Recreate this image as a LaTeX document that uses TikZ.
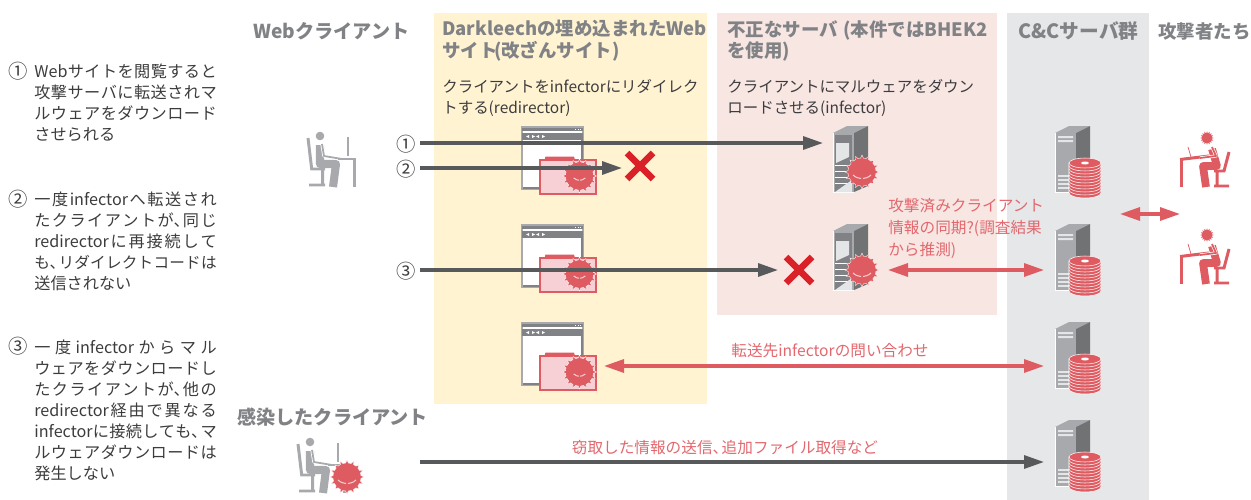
\documentclass[tikz,border=0pt]{standalone}
\usepackage{fontspec}
\setmainfont{Noto Sans CJK JP}
\XeTeXlinebreaklocale "ja"
\XeTeXlinebreakskip=0pt plus 1fil
\usetikzlibrary{arrows.meta, positioning}
\definecolor{vred}{HTML}{DE5B61}
\definecolor{vtext}{HTML}{E2686E}
\definecolor{xred}{HTML}{DA2128}
\definecolor{dgray}{HTML}{58595B}
\definecolor{mgray}{HTML}{A7A9AC}
\definecolor{hgray}{HTML}{808285}
\definecolor{tgray}{HTML}{3C3C3E}
\definecolor{panelyellow}{HTML}{FFF3D2}
\definecolor{panelpink}{HTML}{F8E6E3}
\definecolor{panelgray}{HTML}{E6E7E9}
\definecolor{folderpink}{HTML}{F6D0D4}
\newcommand\tenm{、\kern-.42em}
\newcommand\fullline{\parfillskip=0pt \parindent=0pt \tolerance=9999 \hbadness=10000 }
\newcommand\lastline[1]{\par\hbox{#1}}

\begin{document}
\begin{tikzpicture}[x=0.2mm, y=-0.2mm]
 % We define the styles for the texts and the arrows
 \tikzset{
 heading/.style = {font=\fontsize{10.5pt}{12.2pt}\selectfont\bfseries, text=hgray, align=left, inner sep=0pt},
 bigheading/.style = {heading, font=\fontsize{10.9pt}{12.2pt}\selectfont\bfseries, anchor=west},
 note/.style = {font=\fontsize{8.8pt}{11.9pt}\selectfont, text=tgray, align=left, inner sep=0pt, anchor=north west},
 steptext/.style = {font=\fontsize{9.2pt}{11.9pt}\selectfont, execute at begin node=\fullline, text=tgray, text width=103.75pt, inner sep=0pt, anchor=north west},
 rednote/.style = {font=\fontsize{8.9pt}{12.4pt}\selectfont, text=vtext, align=left, inner sep=0pt},
 num/.style = {font=\fontsize{11pt}{12pt}\selectfont, text=tgray, inner sep=0pt},
 line/.style = {draw, dgray, line width=1.8pt, -{Triangle[length=4mm, width=2.6mm]}},
 redline/.style = {draw, vred, line width=1.8pt, {Triangle[length=4mm, width=2.6mm]}-{Triangle[length=4mm, width=2.6mm]}},
 pics/spiky/.style = {code={
  \fill[vred, draw=white, line width=0.2pt] plot[samples=65, domain=0:360] (\x:{ifthenelse(mod(round(\x/5.625),4)==0,17,14)}) -- cycle;
 }},
 pics/virus/.style = {code={
  \pic at (0,0) {spiky};
  \draw[white!70!vred, line width=0.6pt] (-9,3) .. controls (-6,6) and (-3,6) .. (-1,6.5);
  \draw[white!70!vred, line width=0.6pt] (9,3) .. controls (6,6) and (3,6) .. (1,6.5);
 }},
 pics/person/.style = {code={
  \draw[mgray, line width=1.7pt] (2,6) -- (5.7,37) -- (19,37) (16.7,37) -- (16.7,53) (3,53) -- (19,53);
  \fill[mgray] (14,4) circle (4.3);
  \draw[mgray, line width=4.6pt, line join=round] (14,13) -- (14,32) -- (30,32) -- (27,55);
  \draw[white, line width=1.9pt, line join=round] (16,12) -- (18,24) -- (36,27);
  \draw[mgray, line width=1pt, line join=round] (16,12) -- (18,24) -- (36,27);
  \draw[mgray, line width=1.5pt] (32,27) -- (48.6,27) -- (48.6,55);
  \draw[mgray, line width=1.2pt] (42.3,5) -- (42.3,24);
 }},
 pics/attacker/.style = {code={
  \draw[vred, line width=1.7pt] (0,26.5) -- (29,23);
  \draw[vred, line width=1.7pt] (1.5,26) -- (1.5,54);
  \draw[vred, line width=0.4pt] (8,14) -- (11,24);
  \draw[vred, line width=1.7pt] (49,19) -- (44,38) -- (34,38) (37,38) -- (37,53) (34,53) -- (49,53);
  \draw[vred, line width=4.4pt, line join=round] (32,16) -- (37,33) -- (23,33) -- (26,54);
  \draw[white, line width=1.8pt, line join=round] (32,14) -- (36,23) -- (20,25);
  \draw[vred, line width=1pt, line join=round] (32,14) -- (36,23) -- (20,25);
  % spiky head
  \fill[vred, shift={(27,5)}] plot[samples=33, domain=0:360] (\x:{ifthenelse(mod(round(\x/11.25),2)==0,6.6,4.6)}) -- cycle;
 }},
 pics/browser/.style = {code={
  \draw[mgray, fill=white, line width=1pt] (0,0) rectangle (61,62);
  \fill[hgray] (0,1) rectangle (61,4);
  \fill[hgray] (0,6) rectangle (61,13);
  \foreach \dx in {53,55.5,58} \fill[white] (\dx,1.8) rectangle ++(1.4,1.4);
  \fill[white] (4,9.5) -- (7,8) -- (7,11) -- cycle (10,8) -- (13,9.5) -- (10,11) -- cycle;
  \fill[white] (14,9.5) -- (17,8) -- (17,11) -- cycle (20,8) -- (23,9.5) -- (20,11) -- cycle;
  \fill[hgray] (1,59.5) rectangle (60,61.5);
  \fill[hgray] (59,13) rectangle (60.5,61);
  % folder in front of the window
  \fill[vred] (22.5,33) -- (23.5,29.5) -- (52,29.5) -- (53,33) -- cycle;
  \draw[vred, fill=folderpink, line width=0.6pt] (18,33) rectangle (74,67);
  \pic[scale=0.65] at (57.5,49) {virus};
 }},
 pics/srvbody/.style = {code={
  \fill[mgray] (0,7) -- (14,0) -- (35,0) -- (21,7) -- cycle;
  \fill[dgray!85!white] (21,7) -- (35,0) -- (35,60) -- (21,66) -- cycle;
  \fill[mgray] (0,7) rectangle (21,66);
  \draw[white, line width=0.4pt] (0,7) -- (0,66) -- (21,66);
 }},
 pics/server/.style = {code={
  \pic at (0,0) {srvbody};
  \fill[hgray] (2,9) rectangle (19,66);
  \fill[white!70!mgray] (3,17) -- (16,17) -- (16,31) -- (3,37) -- cycle;
  \foreach \dy in {39,45,51,57} \draw[white, line width=0.4pt] (2,\dy) -- (19,\dy);
  \fill[white!70!mgray] (2,66) -- (19,54) -- (19,66) -- cycle;
  \pic at (29,46) {virus};
 }},
 pics/ccserver/.style = {code={
  \pic at (0,0) {srvbody};
  \fill[white!70!mgray] (3,10) rectangle (18,12) (3,14) rectangle (18,16);
  \foreach \dy in {49,53,57,61} \fill[white!70!mgray] (3,\dy) rectangle (15,\dy+1.6);
  % disk stack
  \foreach \dy in {27,24,...,0} {
   \fill[vred, draw=white, line width=0.3pt] (14,37+\dy) -- (14,40+\dy) arc[start angle=180, end angle=0, x radius=16, y radius=5] -- (46,37+\dy) -- cycle;
  }
  \fill[vred, draw=white, line width=0.3pt] (30,37) ellipse (16 and 5);
  \fill[white] (30,37) ellipse (4 and 1.5);
 }},
 pics/crossmark/.style = {code={
  \draw[xred, line width=3.8pt] (-13,-13) -- (13,13) (-13,13) -- (13,-13);
 }},
 }

 % Panels
 \fill[panelyellow] (434,13) rectangle (707,404);
 \fill[panelpink] (717,13) rectangle (997,315);
 \fill[panelgray] (1007,13) rectangle (1149,500);
 \useasboundingbox (0,0) rectangle (1251,500);

 % Column titles
 \node [bigheading] (webclient) at (253,31) {Webクライアント};
 \node [heading, anchor=north west] (darktitle) at (442,20) {Darkleechの埋め込まれたWeb\\サイト\kern-.2em(改ざんサイト)};
 \node [note, below=10pt of darktitle.south west, anchor=north west] (darknote) {クライアントをinfectorにリダイレク\\トする(redirector)};
 \node [heading, anchor=north west] (fraudtitle) at (727,20) {不正なサーバ\kern.3em(本件ではBHEK2\\を使用)};
 \node [note, below=10pt of fraudtitle.south west, anchor=north west] (fraudnote) {クライアントにマルウェアをダウン\\ロードさせる(infector)};
 \node [bigheading, font=\fontsize{11.2pt}{12.2pt}\selectfont\bfseries] (cctitle) at (1018,31) {C\&Cサーバ群};
 \node [heading, anchor=west] (attackers) at (1158,31) {攻撃者たち};
 \node [bigheading] (infected) at (237,417) {感染したクライアント};

 % Left column
 \node [num] (stepa) at (18,71) {①};
 \node [steptext] (stepatext) at (34,64) {Webサイトを閲覧すると\par 攻撃サーバに転送されマ\par ルウェアをダウンロード\lastline{させられる}};
 \node [num] (stepb) at (18,199) {②};
 \node [steptext] (stepbtext) at (34,192) {一度infectorへ転送され\par たクライアントが\tenm 同じ\par redirectorに再接続して\par {\fontsize{8.9pt}{11.9pt}\selectfont も\tenm リダイレクトコードは}\lastline{送信されない}};
 \node [num] (stepc) at (18,346) {③};
 \node [steptext] (stepctext) at (34,340) {一度infectorからマル\par ウェアをダウンロードし\par たクライアントが\tenm 他の\par redirector経由で異なる\par infectorに接続しても\tenm マ\par ルウェアダウンロードは\lastline{発生しない}};

 % Clients and attackers
 \pic (client) at (306,132) {person};
 \pic (victim) at (296,438) {person};
 \pic at (347,477) {virus};
 \pic (attackera) at (1180,133) {attacker};
 \pic (attackerb) at (1180,230) {attacker};

 % Redirectors
 \pic (redira) at (522,127) {browser};
 \pic (redirb) at (522,225) {browser};
 \pic (redirc) at (522,323) {browser};

 % Infectors
 \pic (infa) at (833,126) {server};
 \pic (infb) at (833,224) {server};

 % C&C servers
 \pic (cca) at (1055,126) {ccserver};
 \pic (ccb) at (1055,224) {ccserver};
 \pic (ccc) at (1055,322) {ccserver};
 \pic (ccd) at (1055,420) {ccserver};

 % Numbers in front of the arrows
 \node [num] (rowa) at (406,144) {①};
 \node [num] (rowb) at (406,169) {②};
 \node [num] (rowc) at (406,271) {③};

 % Free ends of the arrows
 \coordinate (starta) at (420,143);
 \coordinate (startb) at (420,168);
 \coordinate (startc) at (420,270);
 \coordinate (startd) at (420,462);
 \coordinate (enda) at (823,143);
 \coordinate (endb) at (622,168);
 \coordinate (endc) at (778,270);
 \coordinate (endd) at (1044,462);
 \coordinate (syncl) at (888,270);
 \coordinate (syncr) at (1044,270);
 \coordinate (askl) at (604,366);
 \coordinate (askr) at (1044,366);
 \coordinate (talkl) at (1120,214);
 \coordinate (talkr) at (1180,214);

 % Arrows and labels
 \draw [line] (starta) -- (enda);
 \draw [line] (startb) -- (endb);
 \draw [line] (startc) -- (endc);
 \draw [line] (startd) -- (endd);
 \draw [redline] (syncl) -- (syncr);
 \draw [redline] (askl) -- (askr);
 \draw [redline] (talkl) -- (talkr);
 \node [rednote, anchor=north west] (synctext) at (888,198) {攻撃済みクライアント\\情報の同期?(調査結果\\から推測)};
 \node [rednote] (asktext) at (830,351) {転送先infectorの問い合わせ};
 \node [rednote] (stealtext) at (725,448) {窃取した情報の送信\tenm 追加ファイル取得など};

 % Crosses
 \pic at (640,166) {crossmark};
 \pic at (799,270) {crossmark};

\end{tikzpicture}
\end{document}
